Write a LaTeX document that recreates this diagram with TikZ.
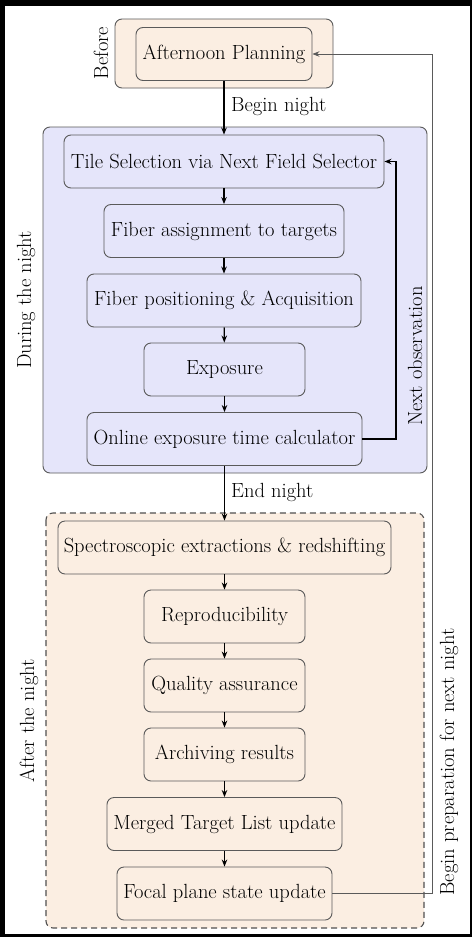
\documentclass[tikz,border=0pt]{standalone}
\usetikzlibrary{arrows.meta,calc}
\definecolor{peach}{RGB}{251,238,226}
\definecolor{lav}{RGB}{229,229,250}
\definecolor{edge}{RGB}{90,90,90}
\tikzset{
  stepbox/.style={draw=edge, line width=0.9pt, rounded corners=7pt, minimum height=53pt,
    inner sep=0pt, align=center, font=\fontsize{20.5}{24}\selectfont},
  groupbox/.style={draw=edge, line width=0.9pt, rounded corners=7pt},
  flow/.style={line width=1.6pt, -{Stealth[length=7pt,width=5.5pt]}},
  lbl/.style={font=\fontsize{20.5}{24}\selectfont, inner sep=0pt},
}
\begin{document}
\begin{tikzpicture}[x=1pt,y=-1pt]
  % canvas
  \fill[black] (0,0) rectangle (472,937);
  \useasboundingbox (0,0) rectangle (472,937);
  \fill[white] (5,6) rectangle (470,934);

  % group frames
  \draw[groupbox, fill=peach] (115,19) rectangle (333,88);
  \draw[groupbox, fill=lav] (43,127) rectangle (427,473);
  \draw[groupbox, fill=peach, draw=edge!90!black, line width=1.1pt, dash pattern=on 6pt off 4pt] (46,513) rectangle (424,928);

  % group labels
  \node[lbl, rotate=90] (lbefore) at (101,53) {Before};
  \node[lbl, rotate=90] (lduring) at (26,300) {During the night};
  \node[lbl, rotate=90] (lafter) at (29,721) {After the night};

  % steps
  \node[stepbox, fill=peach, minimum width=176pt] (plan) at (224,54) {Afternoon Planning};

  \node[stepbox, fill=lav, minimum width=320pt] (tile) at (224,161.5) {Tile Selection via Next Field Selector};
  \node[stepbox, fill=lav, minimum width=240pt] (assign) at (224,231) {Fiber assignment to targets};
  \node[stepbox, fill=lav, minimum width=274pt] (pos) at (224,300.5) {Fiber positioning \& Acquisition};
  \node[stepbox, fill=lav, minimum width=161pt] (expo) at (224.5,369.5) {Exposure};
  \node[stepbox, fill=lav, minimum width=275pt] (etc) at (224.5,439) {Online exposure time calculator};

  \node[stepbox, fill=peach, minimum width=333pt] (spec) at (224.5,547.5) {Spectroscopic extractions \& redshifting};
  \node[stepbox, fill=peach, minimum width=161pt] (repro) at (224.5,616.5) {Reproducibility};
  \node[stepbox, fill=peach, minimum width=161pt] (qa) at (224.5,685.5) {Quality assurance};
  \node[stepbox, fill=peach, minimum width=161pt] (arch) at (224.5,754.5) {Archiving results};
  \node[stepbox, fill=peach, minimum width=235pt] (mtl) at (224.5,824) {Merged Target List update};
  \node[stepbox, fill=peach, minimum width=215pt] (fps) at (224.5,893.5) {Focal plane state update};

  % main flow
  \draw[flow] (plan.south -| tile.north) -- (tile.north);
  \node[lbl, anchor=west] (lbegin) at (231,106) {Begin night};
  \draw[flow, line width=1.1pt] (tile) -- (assign);
  \draw[flow, line width=1.1pt] (assign) -- (pos);
  \draw[flow, line width=1.1pt] (pos) -- (expo);
  \draw[flow, line width=1.1pt] (expo) -- (etc);
  \draw[flow] (etc.south -| spec.north) -- (spec.north);
  \node[lbl, anchor=west] (lend) at (231,492) {End night};
  \draw[flow, line width=1.1pt] (spec) -- (repro);
  \draw[flow, line width=1.1pt] (repro) -- (qa);
  \draw[flow, line width=1.1pt] (qa) -- (arch);
  \draw[flow, line width=1.1pt] (arch) -- (mtl);
  \draw[flow, line width=1.1pt] (mtl) -- (fps);

  % loop back to the next observation
  \coordinate (nx) at (396,0);
  \draw[flow] (etc.east) -- (etc.east -| nx) -- (tile.east -| nx) -- (tile.east);
  \node[lbl, rotate=90] (lnext) at (415,356) {Next observation};

  % preparation for the following night
  \coordinate (px) at (432,0);
  \draw[line width=0.8pt, draw=edge, -{Stealth[length=7pt,width=5.5pt]}]
    (fps.east) -- (fps.east -| px) -- (plan.east -| px) -- (plan.east);
  \node[lbl, rotate=90] (lprep) at (449,762) {Begin preparation for next night};
\end{tikzpicture}
\end{document}
